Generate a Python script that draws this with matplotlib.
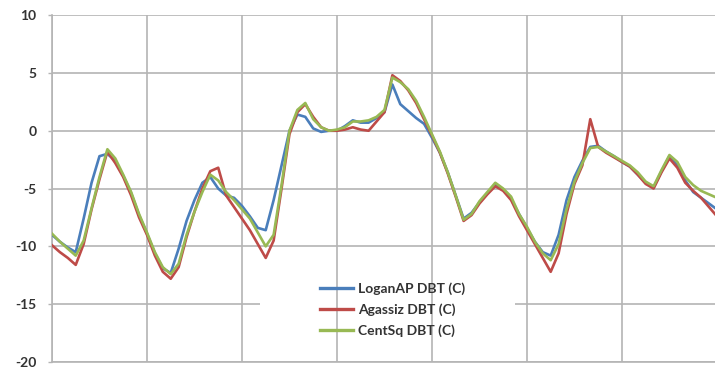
import numpy as np
import matplotlib
matplotlib.use("Agg")
import matplotlib.pyplot as plt
from matplotlib.patches import Rectangle

# ── DATA (dry-bulb temperature, °C, sampled every 2 hours) ───────────────────

hours = list(range(0, 170, 2))

logan_ap = [
    -9.0, -9.6, -10.1, -10.5, -7.6, -4.5, -2.2, -2.0, -2.6, -3.9,
    -5.4, -7.3, -8.9, -10.6, -11.9, -12.3, -10.2, -7.8, -6.0, -4.5,
    -4.0, -5.0, -5.6, -5.8, -6.5, -7.4, -8.4, -8.6, -6.0, -3.0,
    0.0, 1.4, 1.2, 0.2, -0.1, 0.0, 0.0, 0.4, 0.9, 0.7,
    0.7, 1.1, 1.6, 4.0, 2.3, 1.7, 1.1, 0.6, -0.6, -1.9,
    -3.6, -5.6, -7.6, -7.1, -6.2, -5.4, -4.7, -5.1, -5.9, -7.2,
    -8.4, -9.6, -10.5, -10.8, -9.0, -6.0, -4.0, -2.6, -1.4, -1.3,
    -1.8, -2.2, -2.7, -3.1, -3.8, -4.5, -4.9, -3.5, -2.2, -3.0,
    -4.3, -5.3, -5.8, -6.3, -6.8,
]

agassiz = [
    -9.9, -10.5, -11.0, -11.6, -9.8, -6.8, -4.2, -1.8, -2.8, -4.0,
    -5.6, -7.5, -9.0, -10.8, -12.2, -12.8, -11.8, -9.2, -7.0, -5.0,
    -3.5, -3.2, -5.6, -6.6, -7.6, -8.6, -9.8, -11.0, -9.5, -5.0,
    -0.3, 1.6, 2.3, 1.2, 0.3, 0.0, 0.0, 0.1, 0.3, 0.1,
    0.0, 0.8, 1.6, 4.8, 4.3, 3.5, 2.4, 1.0, -0.4, -1.9,
    -3.7, -5.7, -7.8, -7.3, -6.3, -5.5, -4.8, -5.2, -6.0, -7.4,
    -8.6, -9.8, -11.0, -12.2, -10.6, -7.2, -4.6, -3.0, 1.0, -1.4,
    -1.9, -2.3, -2.7, -3.1, -3.8, -4.6, -5.0, -3.6, -2.4, -3.2,
    -4.5, -5.2, -5.8, -6.6, -7.4,
]

cent_sq = [
    -8.9, -9.6, -10.2, -10.8, -9.5, -6.7, -4.0, -1.6, -2.4, -3.8,
    -5.3, -7.2, -8.8, -10.5, -11.8, -12.4, -11.5, -9.0, -7.0, -5.3,
    -3.8, -4.3, -5.3, -6.0, -6.8, -7.6, -8.8, -10.0, -9.0, -4.7,
    0.0, 1.8, 2.4, 1.0, 0.3, 0.0, 0.1, 0.3, 0.8, 0.8,
    0.9, 1.2, 1.8, 4.6, 4.2, 3.6, 2.6, 1.2, -0.3, -1.8,
    -3.6, -5.6, -7.7, -7.2, -6.1, -5.3, -4.5, -5.0, -5.7, -7.2,
    -8.3, -9.6, -10.6, -11.2, -9.8, -6.8, -4.4, -2.8, -1.5, -1.4,
    -1.8, -2.2, -2.6, -3.0, -3.6, -4.4, -4.8, -3.4, -2.1, -2.7,
    -4.0, -4.7, -5.2, -5.5, -5.8,
]

series_names = ["LoganAP DBT (C)", "Agassiz DBT (C)", "CentSq DBT (C)"]
y_ticks = [-20, -15, -10, -5, 0, 5, 10]
day_ticks = list(range(0, 169, 24))

# ── STYLE ────────────────────────────────────────────────────────────────────

COLOR_BLUE = "#4A7EBB"
COLOR_RED = "#BE4B48"
COLOR_GREEN = "#98B954"
COLOR_GRID = "#B4B4B4"
COLOR_TEXT = "#333333"

plt.rcParams["font.family"] = ["Lato", "DejaVu Sans"]

fig = plt.figure(figsize=(7.15, 3.73), dpi=100, facecolor="white")
ax = fig.add_axes([0.0727, 0.0295, 0.93, 0.930])

for vals, color, name in zip([logan_ap, agassiz, cent_sq],
                             [COLOR_BLUE, COLOR_RED, COLOR_GREEN],
                             series_names):
    ax.plot(hours, vals, color=color, linewidth=1.9, label=name, zorder=3)

ax.set_xlim(0, 168)
ax.set_ylim(-20, 10)
ax.set_xticks(day_ticks)
ax.set_xticklabels([])
ax.set_yticks(y_ticks)
ax.set_yticklabels([str(t) for t in y_ticks], fontsize=10, fontweight="bold",
                   color=COLOR_TEXT)
ax.tick_params(axis="y", length=3, width=1, color=COLOR_GRID, pad=8)
ax.tick_params(axis="x", length=0)

# horizontal grid below the legend area, vertical day lines above it
ax.grid(True, axis="y", color=COLOR_GRID, linewidth=1.2, zorder=0)
ax.set_axisbelow(True)
for d in day_ticks:
    ax.axvline(d, color=COLOR_GRID, linewidth=1.2, zorder=2)

for side in ["top", "right"]:
    ax.spines[side].set_visible(False)
for side in ["left", "bottom"]:
    ax.spines[side].set_color(COLOR_GRID)
    ax.spines[side].set_linewidth(1.2)

# white legend area (wider than the entries, as in the spreadsheet chart)
ax.add_patch(Rectangle((0.313, 0.05), 0.384, 0.21, transform=ax.transAxes,
                       facecolor="white", edgecolor="none", zorder=1))

leg = ax.legend(loc="center", bbox_to_anchor=(0.549, 0.170),
                bbox_transform=fig.transFigure, frameon=False,
                fontsize=10, handlelength=2.4, handletextpad=0.35,
                labelspacing=0.62, borderpad=0.3)
leg.set_zorder(4)
for txt in leg.get_texts():
    txt.set_fontweight("bold")
    txt.set_color(COLOR_TEXT)
for line in leg.get_lines():
    line.set_linewidth(2.4)

fig.savefig("out.png", dpi=100, facecolor="white")
